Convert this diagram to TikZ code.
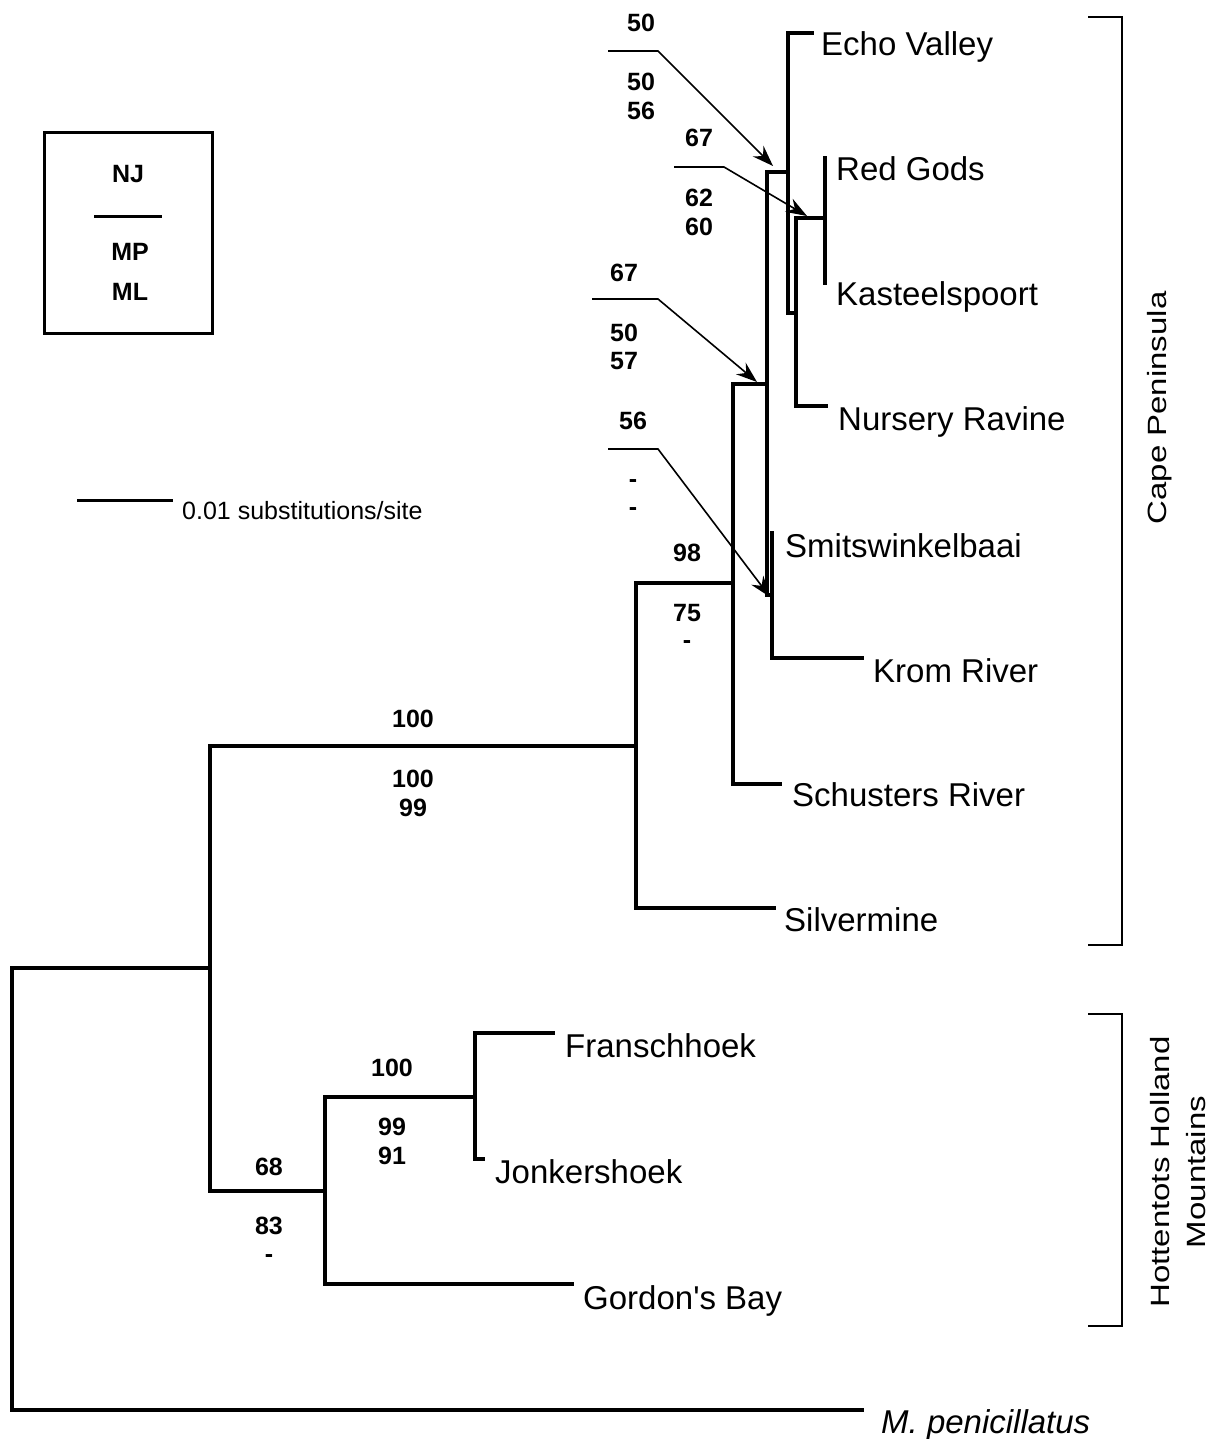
\documentclass[tikz,border=0pt]{standalone}
\usepackage{fontspec}
\setmainfont{Liberation Sans}
\usepackage{graphicx}
\usetikzlibrary{arrows.meta}
\tikzset{
  br/.style={line width=3.2pt, line cap=rect},
  ptr/.style={line width=1.6pt, -{Stealth[length=21pt,width=15pt,inset=7pt]}},
  grp/.style={line width=2pt},
  taxon/.style={anchor=base west, inner sep=0pt, font=\fontsize{33}{40}\selectfont},
  bsv/.style={anchor=base, inner sep=0pt, font=\fontsize{25}{30}\selectfont\bfseries},
  rlab/.style={anchor=base, inner sep=0pt, rotate=90, font=\fontsize{33}{40}\selectfont},
}
\begin{document}
\begin{tikzpicture}[x=1pt,y=-1pt]
\useasboundingbox (0,0) rectangle (1223,1439);
% internal nodes
\coordinate (root) at (12,968);
\coordinate (n1) at (210,968);
\coordinate (n2) at (636,746);
\coordinate (n3) at (733,583);
\coordinate (n4) at (767,384);
\coordinate (n5) at (788,172);
\coordinate (n6) at (796,313);
\coordinate (n7) at (825,218);
\coordinate (n8) at (772,595);
\coordinate (n9) at (325,1191);
\coordinate (n10) at (475,1097);
% tips
\coordinate (tEcho) at (812,33);
\coordinate (tRed) at (825,158);
\coordinate (tKas) at (825,283);
\coordinate (tNur) at (826,406);
\coordinate (tSmi) at (772,533);
\coordinate (tKrom) at (862,658);
\coordinate (tSch) at (780,784);
\coordinate (tSil) at (774,908);
\coordinate (tFra) at (553,1033);
\coordinate (tJon) at (483,1159);
\coordinate (tGor) at (572,1284);
\coordinate (tOut) at (862,1410);
% branches
\draw[br] (root) |- (n1);
\draw[br] (root) |- (tOut);
\draw[br] (n1) |- (n2);
\draw[br] (n1) |- (n9);
\draw[br] (n2) |- (n3);
\draw[br] (n2) |- (tSil);
\draw[br] (n3) |- (n4);
\draw[br] (n3) |- (tSch);
\draw[br] (n4) |- (n5);
\draw[br] (n4) |- (n8);
\draw[br] (n5) |- (tEcho);
\draw[br] (n5) |- (n6);
\draw[br] (n6) |- (n7);
\draw[br] (n6) |- (tNur);
\draw[br] (n7) |- (tRed);
\draw[br] (n7) |- (tKas);
\draw[br] (n8) |- (tSmi);
\draw[br] (n8) |- (tKrom);
\draw[br] (n9) |- (n10);
\draw[br] (n9) |- (tGor);
\draw[br] (n10) |- (tFra);
\draw[br] (n10) |- (tJon);
% taxon labels
\node[taxon] (lEcho) at (821,55.5) {Echo Valley};
\node[taxon] (lRed) at (836,181) {Red Gods};
\node[taxon] (lKas) at (836,305) {Kasteelspoort};
\node[taxon] (lNur) at (838,430) {Nursery Ravine};
\node[taxon] (lSmi) at (785,557) {Smitswinkelbaai};
\node[taxon] (lKrom) at (873,682) {Krom River};
\node[taxon] (lSch) at (792,806) {Schusters River};
\node[taxon] (lSil) at (784,931) {Silvermine};
\node[taxon] (lFra) at (565,1057) {Franschhoek};
\node[taxon] (lJon) at (495,1183) {Jonkershoek};
\node[taxon] (lGor) at (583,1309) {Gordon\textquotesingle s Bay};
\node[taxon] (lOut) at (881,1433) {\itshape M. penicillatus};
% support values
\node[bsv] (s1a) at (641,32) {50};
\node[bsv] (s1b) at (641,91) {50};
\node[bsv] (s1c) at (641,120) {56};
\node[bsv] (s2a) at (699,147) {67};
\node[bsv] (s2b) at (699,207) {62};
\node[bsv] (s2c) at (699,236) {60};
\node[bsv] (s3a) at (624,281) {67};
\node[bsv] (s3b) at (624,341) {50};
\node[bsv] (s3c) at (624,369) {57};
\node[bsv] (s4a) at (633,429) {56};
\node[bsv] (s4b) at (633,487) {-};
\node[bsv] (s4c) at (633,515) {-};
\node[bsv] (s5a) at (687,561) {98};
\node[bsv] (s5b) at (687,621) {75};
\node[bsv] (s5c) at (687,648) {-};
\node[bsv] (s6a) at (413,727) {100};
\node[bsv] (s6b) at (413,787) {100};
\node[bsv] (s6c) at (413,816) {99};
\node[bsv] (s7a) at (392,1076) {100};
\node[bsv] (s7b) at (392,1135) {99};
\node[bsv] (s7c) at (392,1164) {91};
\node[bsv] (s8a) at (269,1175) {68};
\node[bsv] (s8b) at (269,1234) {83};
\node[bsv] (s8c) at (269,1262) {-};
% pointers
\coordinate (p1a) at (608,51); \coordinate (p1b) at (658,51); \coordinate (p1c) at (773,166);
\coordinate (p2a) at (674,167); \coordinate (p2b) at (724,167); \coordinate (p2c) at (807,216);
\coordinate (p3a) at (592,299); \coordinate (p3b) at (658,299); \coordinate (p3c) at (757,382);
\coordinate (p4a) at (608,449); \coordinate (p4b) at (658,449); \coordinate (p4c) at (770,597);
\draw[ptr] (p1a) -- (p1b) -- (p1c);
\draw[ptr] (p2a) -- (p2b) -- (p2c);
\draw[ptr] (p3a) -- (p3b) -- (p3c);
\draw[ptr] (p4a) -- (p4b) -- (p4c);
% group brackets
\coordinate (c1) at (1088,17); \coordinate (c2) at (1122,17);
\coordinate (c3) at (1122,945); \coordinate (c4) at (1088,945);
\draw[grp] (c1) -- (c2) -- (c3) -- (c4);
\coordinate (h1) at (1088,1014); \coordinate (h2) at (1122,1014);
\coordinate (h3) at (1122,1326); \coordinate (h4) at (1088,1326);
\draw[grp] (h1) -- (h2) -- (h3) -- (h4);
\node[rlab] (gCape) at (1166,408) {\scalebox{1}[0.8]{Cape Peninsula}};
\node[rlab] (gHot1) at (1169,1172) {\scalebox{1}[0.8]{Hottentots Holland}};
\node[rlab] (gHot2) at (1205,1172) {\scalebox{1}[0.8]{Mountains}};
% legend
\node[draw, line width=3pt, minimum width=168pt, minimum height=200pt, inner sep=0pt] (legend) at (128,233) {};
\node[bsv] (lgNJ) at (128,183) {NJ};
\coordinate (lg1) at (94,217); \coordinate (lg2) at (162,217);
\draw[line width=3pt] (lg1) -- (lg2);
\node[bsv] (lgMP) at (130,260) {MP};
\node[bsv] (lgML) at (130,300) {ML};
% scale bar
\coordinate (sb1) at (77,500); \coordinate (sb2) at (173,500);
\draw[line width=3pt] (sb1) -- (sb2);
\node[anchor=base west, inner sep=0pt, font=\fontsize{25}{30}\selectfont] (sbl) at (182,519) {0.01 substitutions/site};
\end{tikzpicture}
\end{document}
